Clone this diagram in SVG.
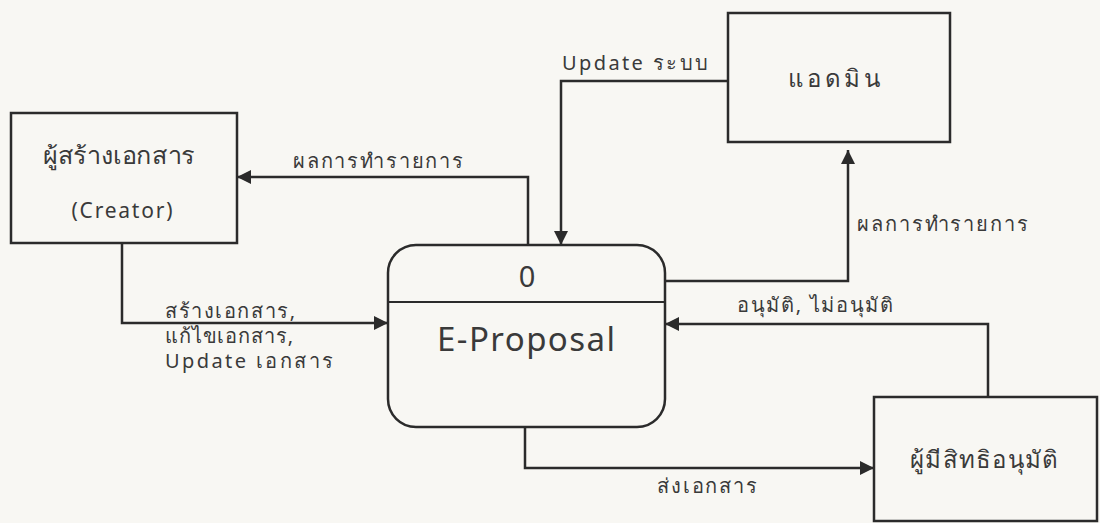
<svg xmlns="http://www.w3.org/2000/svg" width="1100" height="523" viewBox="0 0 1100 523">
<defs>
<marker id="ah" viewBox="0 0 10 10" refX="10" refY="5" markerWidth="14" markerHeight="14" markerUnits="userSpaceOnUse" orient="auto">
<path d="M0,0 L10,5 L0,10 z" fill="#2b2b2b"/>
</marker>
<style>
.box{fill:none;stroke:#2b2b2b;stroke-width:2.5}
.ln{fill:none;stroke:#2b2b2b;stroke-width:2.5;marker-end:url(#ah)}
.ln0{fill:none;stroke:#2b2b2b;stroke-width:2}
text{font-family:"Noto Sans","Open Sans","DejaVu Sans",sans-serif;fill:#3a3a3a}
.lbl{font-size:20px}
.nt{font-size:24px}
</style>
</defs>
<rect width="1100" height="523" fill="#f8f7f3"/>
<g id="creator">
<rect class="box" x="11" y="113" width="226" height="130"/>
<text class="nt" x="119" y="164" text-anchor="middle" textLength="152" lengthAdjust="spacingAndGlyphs">ผู้สร้างเอกสาร</text>
<text class="nt" x="122" y="218" text-anchor="middle" style="font-size:21px" textLength="101" lengthAdjust="spacing">(Creator)</text>
</g>
<g id="admin">
<rect class="box" x="728" y="13" width="222" height="129"/>
<text class="nt" x="834" y="87" text-anchor="middle" textLength="92" lengthAdjust="spacing">แอดมิน</text>
</g>
<g id="approver">
<rect class="box" x="874" y="397" width="223" height="124"/>
<text class="nt" x="984" y="468" text-anchor="middle" textLength="148" lengthAdjust="spacing">ผู้มีสิทธิอนุมัติ</text>
</g>
<g id="process">
<rect class="box" x="388" y="245" width="277" height="182" rx="28" ry="28"/>
<line class="ln0" x1="388" y1="302" x2="665" y2="302"/>
<text x="527" y="287" text-anchor="middle" font-size="29">0</text>
<text x="526" y="351" text-anchor="middle" font-size="33" textLength="178" lengthAdjust="spacing">E-Proposal</text>
</g>
<g id="connectors">
<path class="ln" d="M528,245 V177 H237"/>
<path class="ln" d="M122,243 V323 H388"/>
<path class="ln" d="M728,81 H561 V245"/>
<path class="ln" d="M665,281 H848 V150"/>
<path class="ln" d="M988,397 V324 H665"/>
<path class="ln" d="M525,427 V468 H874"/>
<text class="lbl" x="293" y="168" textLength="170" lengthAdjust="spacing">ผลการทำรายการ</text>
<text class="lbl" x="165" y="318" textLength="130" lengthAdjust="spacing">สร้างเอกสาร,</text>
<text class="lbl" x="165" y="343" textLength="128" lengthAdjust="spacing">แก้ไขเอกสาร,</text>
<text class="lbl" x="165" y="368" textLength="168" lengthAdjust="spacing">Update เอกสาร</text>
<text class="lbl" x="562" y="70" textLength="146" lengthAdjust="spacing">Update ระบบ</text>
<text class="lbl" x="857" y="231" textLength="171" lengthAdjust="spacing">ผลการทำรายการ</text>
<text class="lbl" x="737" y="312" textLength="156" lengthAdjust="spacing">อนุมัติ, ไม่อนุมัติ</text>
<text class="lbl" x="657" y="493" textLength="100" lengthAdjust="spacing">ส่งเอกสาร</text>
</g>
</svg>
